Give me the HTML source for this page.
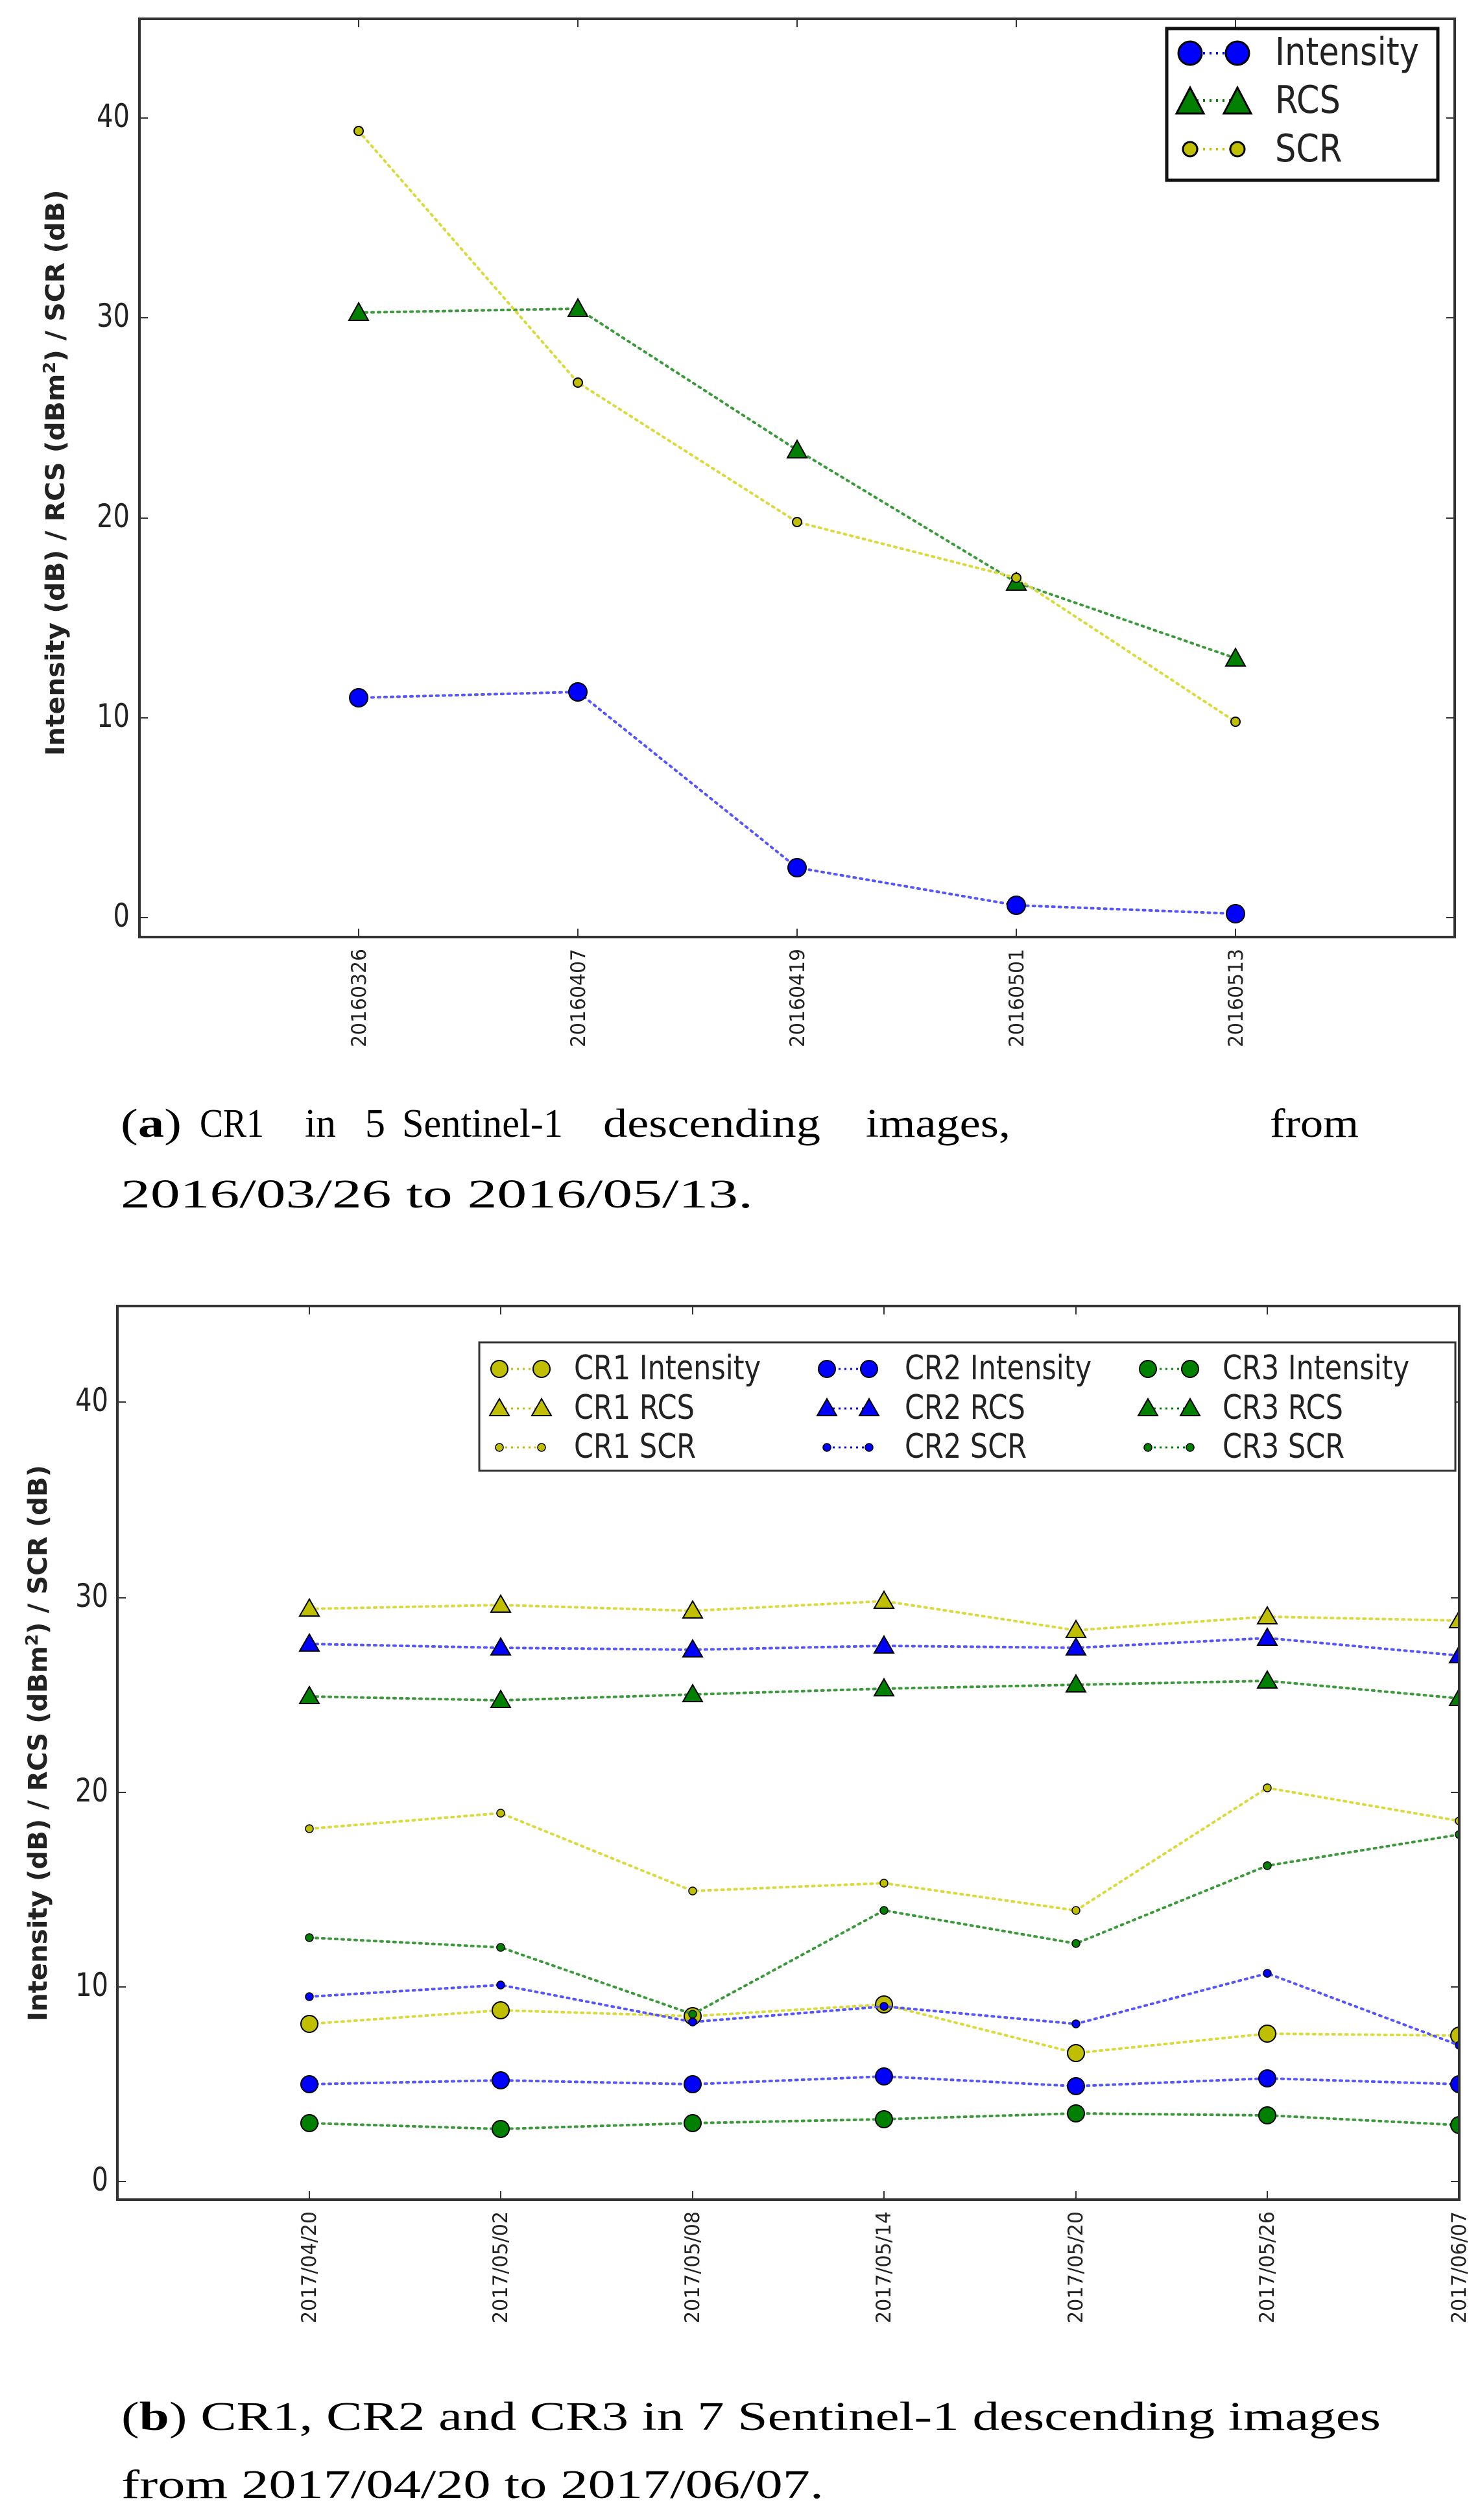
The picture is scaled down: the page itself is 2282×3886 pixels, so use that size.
<!DOCTYPE html>
<html><head><meta charset="utf-8"><style>
html,body{margin:0;padding:0;background:#fff}
svg{display:block}
.t{font-family:"DejaVu Sans","Liberation Sans",sans-serif;fill:#222}
.cap{font-family:"Liberation Serif","DejaVu Serif",serif;font-size:62px;fill:#000}
</style></head><body>
<svg width="2282" height="3886" viewBox="0 0 2282 3886" xmlns="http://www.w3.org/2000/svg">
<defs>
<clipPath id="ca"><rect x="215" y="29" width="2028" height="1416"/></clipPath>
<clipPath id="cb"><rect x="181" y="2014" width="2069" height="1378"/></clipPath>
<marker id="aI" markerUnits="userSpaceOnUse" viewBox="0 0 40 40" refX="20" refY="20" markerWidth="40" markerHeight="40" overflow="visible"><circle cx="20" cy="20" r="14" fill="#0000ff" stroke="#000" stroke-width="2"/></marker>
<marker id="aR" markerUnits="userSpaceOnUse" viewBox="0 0 40 40" refX="20" refY="20" markerWidth="40" markerHeight="40" overflow="visible"><polygon points="20,5 35,32 5,32" fill="#008000" stroke="#000" stroke-width="2"/></marker>
<marker id="aS" markerUnits="userSpaceOnUse" viewBox="0 0 40 40" refX="20" refY="20" markerWidth="40" markerHeight="40" overflow="visible"><circle cx="20" cy="20" r="7" fill="#bfbf00" stroke="#000" stroke-width="2"/></marker>
<marker id="LaI" markerUnits="userSpaceOnUse" viewBox="0 0 40 40" refX="20" refY="20" markerWidth="40" markerHeight="40" overflow="visible"><circle cx="20" cy="20" r="18" fill="#0000ff" stroke="#000" stroke-width="3"/></marker>
<marker id="LaR" markerUnits="userSpaceOnUse" viewBox="0 0 40 40" refX="20" refY="20" markerWidth="40" markerHeight="40" overflow="visible"><polygon points="20,0 41,40 -1,40" fill="#008000" stroke="#000" stroke-width="3"/></marker>
<marker id="LaS" markerUnits="userSpaceOnUse" viewBox="0 0 40 40" refX="20" refY="20" markerWidth="40" markerHeight="40" overflow="visible"><circle cx="20" cy="20" r="11" fill="#bfbf00" stroke="#000" stroke-width="3"/></marker>
<marker id="yI" markerUnits="userSpaceOnUse" viewBox="0 0 40 40" refX="20" refY="20" markerWidth="40" markerHeight="40" overflow="visible"><circle cx="20" cy="20" r="13" fill="#bfbf00" stroke="#000" stroke-width="2"/></marker>
<marker id="bI" markerUnits="userSpaceOnUse" viewBox="0 0 40 40" refX="20" refY="20" markerWidth="40" markerHeight="40" overflow="visible"><circle cx="20" cy="20" r="13" fill="#0000ff" stroke="#000" stroke-width="2"/></marker>
<marker id="gI" markerUnits="userSpaceOnUse" viewBox="0 0 40 40" refX="20" refY="20" markerWidth="40" markerHeight="40" overflow="visible"><circle cx="20" cy="20" r="13" fill="#008000" stroke="#000" stroke-width="2"/></marker>
<marker id="yR" markerUnits="userSpaceOnUse" viewBox="0 0 40 40" refX="20" refY="20" markerWidth="40" markerHeight="40" overflow="visible"><polygon points="20,5 35,31 5,31" fill="#bfbf00" stroke="#000" stroke-width="2"/></marker>
<marker id="bR" markerUnits="userSpaceOnUse" viewBox="0 0 40 40" refX="20" refY="20" markerWidth="40" markerHeight="40" overflow="visible"><polygon points="20,5 35,31 5,31" fill="#0000ff" stroke="#000" stroke-width="2"/></marker>
<marker id="gR" markerUnits="userSpaceOnUse" viewBox="0 0 40 40" refX="20" refY="20" markerWidth="40" markerHeight="40" overflow="visible"><polygon points="20,5 35,31 5,31" fill="#008000" stroke="#000" stroke-width="2"/></marker>
<marker id="yS" markerUnits="userSpaceOnUse" viewBox="0 0 40 40" refX="20" refY="20" markerWidth="40" markerHeight="40" overflow="visible"><circle cx="20" cy="20" r="6" fill="#bfbf00" stroke="#000" stroke-width="1.5"/></marker>
<marker id="bS" markerUnits="userSpaceOnUse" viewBox="0 0 40 40" refX="20" refY="20" markerWidth="40" markerHeight="40" overflow="visible"><circle cx="20" cy="20" r="6" fill="#0000ff" stroke="#000" stroke-width="1.5"/></marker>
<marker id="gS" markerUnits="userSpaceOnUse" viewBox="0 0 40 40" refX="20" refY="20" markerWidth="40" markerHeight="40" overflow="visible"><circle cx="20" cy="20" r="6" fill="#008000" stroke="#000" stroke-width="1.5"/></marker>
</defs>

<!-- ================= CHART A ================= -->
<g stroke="#333" stroke-width="2">
<line x1="215" y1="1415" x2="228" y2="1415"/><line x1="215" y1="1107" x2="228" y2="1107"/><line x1="215" y1="799" x2="228" y2="799"/><line x1="215" y1="490" x2="228" y2="490"/><line x1="215" y1="182" x2="228" y2="182"/>
<line x1="2243" y1="1415" x2="2230" y2="1415"/><line x1="2243" y1="1107" x2="2230" y2="1107"/><line x1="2243" y1="799" x2="2230" y2="799"/><line x1="2243" y1="490" x2="2230" y2="490"/><line x1="2243" y1="182" x2="2230" y2="182"/>
<line x1="553" y1="1445" x2="553" y2="1432"/><line x1="891" y1="1445" x2="891" y2="1432"/><line x1="1229" y1="1445" x2="1229" y2="1432"/><line x1="1567" y1="1445" x2="1567" y2="1432"/><line x1="1905" y1="1445" x2="1905" y2="1432"/>
<line x1="553" y1="29" x2="553" y2="42"/><line x1="891" y1="29" x2="891" y2="42"/><line x1="1229" y1="29" x2="1229" y2="42"/><line x1="1567" y1="29" x2="1567" y2="42"/><line x1="1905" y1="29" x2="1905" y2="42"/>
</g>
<g clip-path="url(#ca)" fill="none" stroke-width="4" stroke-dasharray="3 7" stroke-linecap="round">
<polyline points="553,1076 891,1067 1229,1338 1567,1396 1905,1409" stroke="#5555ff" marker-start="url(#aI)" marker-mid="url(#aI)" marker-end="url(#aI)"/>
<polyline points="553,482 891,476 1229,694 1567,898 1905,1015" stroke="#3a9a3a" marker-start="url(#aR)" marker-mid="url(#aR)" marker-end="url(#aR)"/>
<polyline points="553,202 891,590 1229,805 1567,891 1905,1113" stroke="#dada3a" marker-start="url(#aS)" marker-mid="url(#aS)" marker-end="url(#aS)"/>
</g>
<rect x="215" y="29" width="2028" height="1416" fill="none" stroke="#333" stroke-width="4"/>
<g class="t" font-size="40" text-anchor="end">
<text transform="translate(200,1429) scale(1,1.25)">0</text>
<text transform="translate(200,1121) scale(1,1.25)">10</text>
<text transform="translate(200,813) scale(1,1.25)">20</text>
<text transform="translate(200,504) scale(1,1.25)">30</text>
<text transform="translate(200,196) scale(1,1.25)">40</text>
</g>
<g class="t" font-size="31">
<text transform="translate(564,1615) rotate(-90)" textLength="152" lengthAdjust="spacingAndGlyphs">20160326</text>
<text transform="translate(902,1615) rotate(-90)" textLength="152" lengthAdjust="spacingAndGlyphs">20160407</text>
<text transform="translate(1240,1615) rotate(-90)" textLength="152" lengthAdjust="spacingAndGlyphs">20160419</text>
<text transform="translate(1578,1615) rotate(-90)" textLength="152" lengthAdjust="spacingAndGlyphs">20160501</text>
<text transform="translate(1916,1615) rotate(-90)" textLength="152" lengthAdjust="spacingAndGlyphs">20160513</text>
</g>
<text class="t" font-weight="bold" font-size="40" fill="#000" text-anchor="middle" transform="translate(99,729) rotate(-90)" textLength="873" lengthAdjust="spacingAndGlyphs">Intensity (dB) / RCS (dBm<tspan font-size="26" dy="-14">2</tspan><tspan dy="14">) / SCR (dB)</tspan></text>
<rect x="1799" y="44" width="418" height="234" fill="#fff" stroke="#111" stroke-width="5"/>
<g fill="none" stroke-width="4" stroke-dasharray="3 7">
<polyline points="1835,82 1908,82" stroke="#0000ff" marker-start="url(#LaI)" marker-end="url(#LaI)"/>
<polyline points="1835,155 1908,155" stroke="#008000" marker-start="url(#LaR)" marker-end="url(#LaR)"/>
<polyline points="1835,230 1908,230" stroke="#bfbf00" marker-start="url(#LaS)" marker-end="url(#LaS)"/>
</g>
<g class="t" font-size="51">
<text transform="translate(1966,100) scale(1,1.15)">Intensity</text>
<text transform="translate(1966,174) scale(1,1.15)">RCS</text>
<text transform="translate(1966,249) scale(1,1.15)">SCR</text>
</g>
<g class="cap">
<text x="186" y="1753" textLength="94" lengthAdjust="spacingAndGlyphs">(<tspan font-weight="bold">a</tspan>)</text>
<text x="308" y="1753" textLength="99" lengthAdjust="spacingAndGlyphs">CR1</text>
<text x="470" y="1753" textLength="48" lengthAdjust="spacingAndGlyphs">in</text>
<text x="563" y="1753">5</text>
<text x="620" y="1753" textLength="248" lengthAdjust="spacingAndGlyphs">Sentinel-1</text>
<text x="930" y="1753" textLength="335" lengthAdjust="spacingAndGlyphs">descending</text>
<text x="1335" y="1753" textLength="223" lengthAdjust="spacingAndGlyphs">images,</text>
<text x="1958" y="1753" textLength="137" lengthAdjust="spacingAndGlyphs">from</text>
<text x="186" y="1862" textLength="975" lengthAdjust="spacingAndGlyphs">2016/03/26 to 2016/05/13.</text>
</g>

<!-- ================= CHART B ================= -->
<g stroke="#333" stroke-width="2">
<line x1="181" y1="3364" x2="194" y2="3364"/><line x1="181" y1="3064" x2="194" y2="3064"/><line x1="181" y1="2764" x2="194" y2="2764"/><line x1="181" y1="2464" x2="194" y2="2464"/><line x1="181" y1="2162" x2="194" y2="2162"/>
<line x1="2250" y1="3364" x2="2237" y2="3364"/><line x1="2250" y1="3064" x2="2237" y2="3064"/><line x1="2250" y1="2764" x2="2237" y2="2764"/><line x1="2250" y1="2464" x2="2237" y2="2464"/><line x1="2250" y1="2162" x2="2237" y2="2162"/>
<line x1="477" y1="3392" x2="477" y2="3379"/><line x1="772" y1="3392" x2="772" y2="3379"/><line x1="1068" y1="3392" x2="1068" y2="3379"/><line x1="1363" y1="3392" x2="1363" y2="3379"/><line x1="1659" y1="3392" x2="1659" y2="3379"/><line x1="1954" y1="3392" x2="1954" y2="3379"/>
<line x1="477" y1="2014" x2="477" y2="2027"/><line x1="772" y1="2014" x2="772" y2="2027"/><line x1="1068" y1="2014" x2="1068" y2="2027"/><line x1="1363" y1="2014" x2="1363" y2="2027"/><line x1="1659" y1="2014" x2="1659" y2="2027"/><line x1="1954" y1="2014" x2="1954" y2="2027"/>
</g>
<g clip-path="url(#cb)" fill="none" stroke-width="4" stroke-dasharray="3 7" stroke-linecap="round">
<polyline points="477,3121 772,3100 1068,3109 1363,3091 1659,3166 1954,3136 2250,3139" stroke="#dada3a" marker-start="url(#yI)" marker-mid="url(#yI)" marker-end="url(#yI)"/>
<polyline points="477,2481 772,2475 1068,2484 1363,2469 1659,2514 1954,2493 2250,2499" stroke="#dada3a" marker-start="url(#yR)" marker-mid="url(#yR)" marker-end="url(#yR)"/>
<polyline points="477,2820 772,2796 1068,2916 1363,2904 1659,2946 1954,2757 2250,2808" stroke="#dada3a" marker-start="url(#yS)" marker-mid="url(#yS)" marker-end="url(#yS)"/>
<polyline points="477,3214 772,3208 1068,3214 1363,3202 1659,3217 1954,3205 2250,3214" stroke="#5555ff" marker-start="url(#bI)" marker-mid="url(#bI)" marker-end="url(#bI)"/>
<polyline points="477,2535 772,2541 1068,2544 1363,2538 1659,2541 1954,2526 2250,2553" stroke="#5555ff" marker-start="url(#bR)" marker-mid="url(#bR)" marker-end="url(#bR)"/>
<polyline points="477,3079 772,3061 1068,3118 1363,3094 1659,3121 1954,3043 2250,3154" stroke="#5555ff" marker-start="url(#bS)" marker-mid="url(#bS)" marker-end="url(#bS)"/>
<polyline points="477,3274 772,3283 1068,3274 1363,3268 1659,3259 1954,3262 2250,3277" stroke="#3a9a3a" marker-start="url(#gI)" marker-mid="url(#gI)" marker-end="url(#gI)"/>
<polyline points="477,2616 772,2622 1068,2613 1363,2604 1659,2598 1954,2592 2250,2619" stroke="#3a9a3a" marker-start="url(#gR)" marker-mid="url(#gR)" marker-end="url(#gR)"/>
<polyline points="477,2988 772,3003 1068,3106 1363,2946 1659,2997 1954,2877 2250,2829" stroke="#3a9a3a" marker-start="url(#gS)" marker-mid="url(#gS)" marker-end="url(#gS)"/>
</g>
<rect x="181" y="2014" width="2069" height="1378" fill="none" stroke="#333" stroke-width="4"/>
<g class="t" font-size="40" text-anchor="end">
<text transform="translate(167,3378) scale(1,1.25)">0</text>
<text transform="translate(167,3078) scale(1,1.25)">10</text>
<text transform="translate(167,2778) scale(1,1.25)">20</text>
<text transform="translate(167,2478) scale(1,1.25)">30</text>
<text transform="translate(167,2176) scale(1,1.25)">40</text>
</g>
<g class="t" font-size="31">
<text transform="translate(487,3583) rotate(-90)" textLength="173" lengthAdjust="spacingAndGlyphs">2017/04/20</text>
<text transform="translate(782,3583) rotate(-90)" textLength="173" lengthAdjust="spacingAndGlyphs">2017/05/02</text>
<text transform="translate(1078,3583) rotate(-90)" textLength="173" lengthAdjust="spacingAndGlyphs">2017/05/08</text>
<text transform="translate(1373,3583) rotate(-90)" textLength="173" lengthAdjust="spacingAndGlyphs">2017/05/14</text>
<text transform="translate(1669,3583) rotate(-90)" textLength="173" lengthAdjust="spacingAndGlyphs">2017/05/20</text>
<text transform="translate(1964,3583) rotate(-90)" textLength="173" lengthAdjust="spacingAndGlyphs">2017/05/26</text>
<text transform="translate(2260,3583) rotate(-90)" textLength="173" lengthAdjust="spacingAndGlyphs">2017/06/07</text>
</g>
<text class="t" font-weight="bold" font-size="40" fill="#000" text-anchor="middle" transform="translate(72,2688) rotate(-90)" textLength="858" lengthAdjust="spacingAndGlyphs">Intensity (dB) / RCS (dBm<tspan font-size="26" dy="-14">2</tspan><tspan dy="14">) / SCR (dB)</tspan></text>
<rect x="739" y="2070" width="1505" height="198" fill="#fff" stroke="#333" stroke-width="3"/>
<g fill="none" stroke-width="3" stroke-dasharray="3 6">
<polyline points="770,2111 835,2111" stroke="#bfbf00" marker-start="url(#yI)" marker-end="url(#yI)"/>
<polyline points="770,2172 835,2172" stroke="#bfbf00" marker-start="url(#yR)" marker-end="url(#yR)"/>
<polyline points="770,2232 835,2232" stroke="#bfbf00" marker-start="url(#yS)" marker-end="url(#yS)"/>
<polyline points="1275,2111 1340,2111" stroke="#0000ff" marker-start="url(#bI)" marker-end="url(#bI)"/>
<polyline points="1275,2172 1340,2172" stroke="#0000ff" marker-start="url(#bR)" marker-end="url(#bR)"/>
<polyline points="1275,2232 1340,2232" stroke="#0000ff" marker-start="url(#bS)" marker-end="url(#bS)"/>
<polyline points="1770,2111 1835,2111" stroke="#008000" marker-start="url(#gI)" marker-end="url(#gI)"/>
<polyline points="1770,2172 1835,2172" stroke="#008000" marker-start="url(#gR)" marker-end="url(#gR)"/>
<polyline points="1770,2232 1835,2232" stroke="#008000" marker-start="url(#gS)" marker-end="url(#gS)"/>
</g>
<g class="t" font-size="43">
<text transform="translate(885,2127) scale(1,1.2)">CR1 Intensity</text>
<text transform="translate(885,2188) scale(1,1.2)">CR1 RCS</text>
<text transform="translate(885,2248) scale(1,1.2)">CR1 SCR</text>
<text transform="translate(1395,2127) scale(1,1.2)">CR2 Intensity</text>
<text transform="translate(1395,2188) scale(1,1.2)">CR2 RCS</text>
<text transform="translate(1395,2248) scale(1,1.2)">CR2 SCR</text>
<text transform="translate(1885,2127) scale(1,1.2)">CR3 Intensity</text>
<text transform="translate(1885,2188) scale(1,1.2)">CR3 RCS</text>
<text transform="translate(1885,2248) scale(1,1.2)">CR3 SCR</text>
</g>
<g class="cap">
<text x="187" y="3747" textLength="1942" lengthAdjust="spacingAndGlyphs">(<tspan font-weight="bold">b</tspan>) CR1, CR2 and CR3 in 7 Sentinel-1 descending images</text>
<text x="187" y="3852" textLength="1083" lengthAdjust="spacingAndGlyphs">from 2017/04/20 to 2017/06/07.</text>
</g>
</svg>
</body></html>
